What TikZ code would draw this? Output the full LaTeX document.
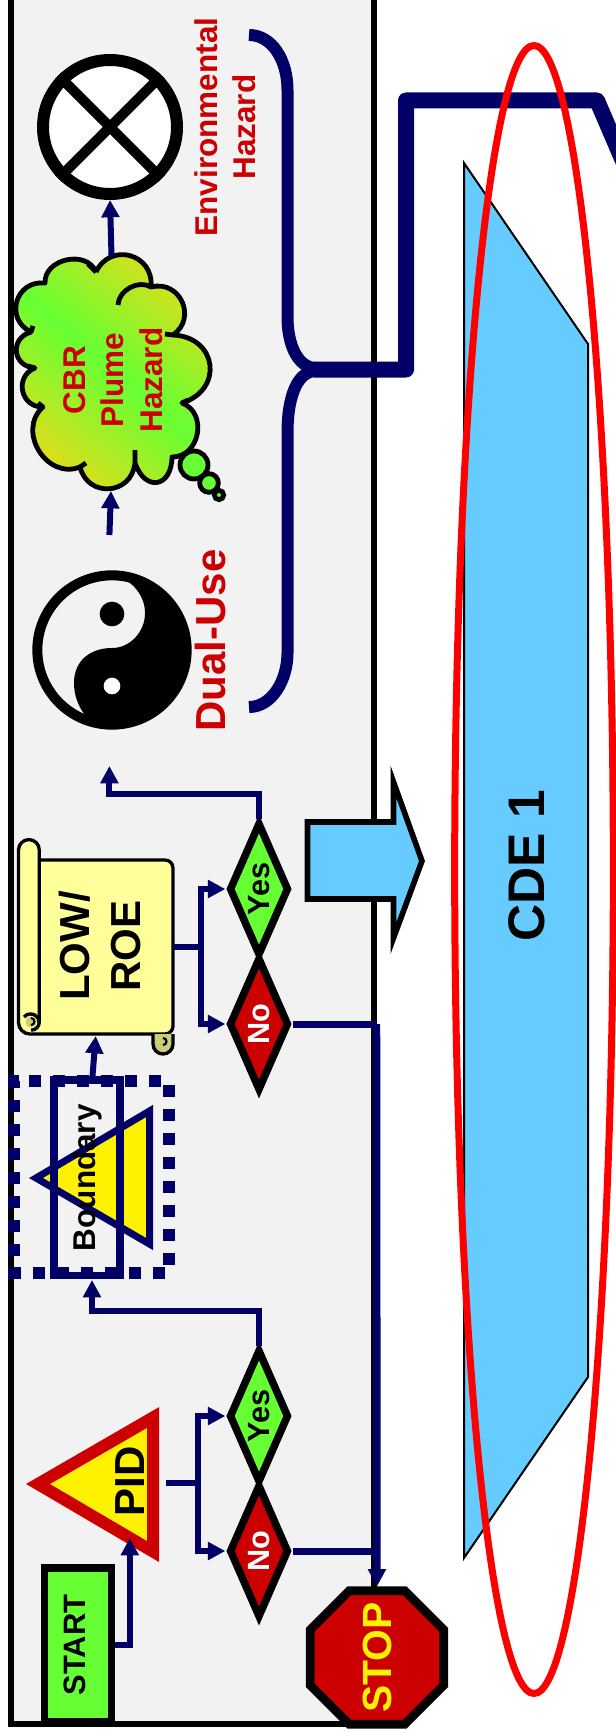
\documentclass[tikz,border=0pt]{standalone}
\usepackage{fontspec}
\setmainfont{Liberation Sans}
\usetikzlibrary{arrows.meta}
\usetikzlibrary{shapes.geometric}

\definecolor{panelgrey}{HTML}{F2F2F2}
\definecolor{navyline}{HTML}{000066}
\definecolor{hazardred}{HTML}{CC0000}
\definecolor{limegreen}{HTML}{66FF33}
\definecolor{skyblue}{HTML}{66CCFF}
\definecolor{scrollyellow}{HTML}{FFFF99}
\definecolor{scrollcurl}{HTML}{CCCC7A}
\definecolor{cloudyellow}{HTML}{E6DC18}

\tikzset{
	flowline/.style = {draw=navyline, line width=4.5pt},
	flowarrow/.style = {flowline, -{Triangle[width=13pt,length=13pt]}},
	redlabel/.style = {font=\bfseries\fontsize{23.6}{28.8}\selectfont, text=hazardred, rotate=90, inner sep=0pt, align=center},
	biglabel/.style = {font=\bfseries\fontsize{31.5}{38.3}\selectfont, rotate=90, inner sep=0pt, align=center},
	decision/.style = {diamond, draw=black, line width=5.6pt, rotate=90, inner sep=0pt, aspect=2.25,
		minimum width=100pt, minimum height=45pt, font=\bfseries\fontsize{23}{28}\selectfont},
	yesbox/.style = {decision, fill=limegreen},
	nobox/.style = {decision, fill=hazardred, text=white},
	cloudlobe/.style = {bend left=80, looseness=1.5},
	scrollline/.style = {draw=black, line width=2.5pt}
}

\begin{document}
\begin{tikzpicture}[x=0.75pt, y=-0.75pt]
	\useasboundingbox (0,0) rectangle (615,1733);
	
	% grey panel
	\draw[black, fill=panelgrey, line width=4.5pt] (10.8,-2.5) rectangle (373.5,1723.5);
	
	% hazard symbol
	\node[circle, draw=black, fill=white, line width=9pt, minimum size=100.5pt, inner sep=0pt] (envhazard) at (110,127) {};
	\draw[black, line width=7.5pt] (envhazard.45) -- (envhazard.225);
	\draw[black, line width=7.5pt] (envhazard.135) -- (envhazard.315);
	\node[redlabel] (envlabel) at (225.5,127) {Environmental\\Hazard};
	
	% cloud
	\draw[black, line width=3.6pt, line join=round, left color=cloudyellow, right color=cloudyellow, middle color=limegreen, shading angle=140]
		(96,272) to[cloudlobe] (151,287)
		to[cloudlobe, looseness=1.45] (173,335)
		to[cloudlobe, looseness=1.65] (182,403)
		to[cloudlobe, looseness=1.3] (172,457)
		to[cloudlobe, looseness=2.1] (135,463)
		to[cloudlobe] (80,467)
		to[cloudlobe, looseness=1.3] (43,407)
		to[cloudlobe, looseness=1.45] (35,368)
		to[cloudlobe, looseness=1.6] (31,332)
		to[cloudlobe] (45,283)
		to[cloudlobe, looseness=1.2] (96,272);
	\draw[black, line width=3.6pt] (118,305) to[bend left=60] (151,287);
	\draw[black, line width=3.6pt] (96,272) -- (88,264) (173,335) -- (165,334) (182,403) -- (188,400) (135,463) -- (135,450)
		(80,467) -- (86,463) (43,407) -- (38,403) (35,368) -- (28,366) (31,332) -- (33,326);
	\node[redlabel] (plumelabel) at (113,380) {CBR\\Plume\\Hazard};
	\node[circle, draw=black, fill=limegreen, line width=3.6pt, minimum size=21pt, inner sep=0pt] (bubblea) at (194,465) {};
	\node[circle, draw=black, fill=limegreen, line width=3.6pt, minimum size=14pt, inner sep=0pt] (bubbleb) at (209,483) {};
	\node[circle, draw=black, fill=limegreen, line width=3.6pt, minimum size=7pt, inner sep=0pt] (bubblec) at (219,495) {};
	
	\coordinate (cloudtop) at (111.5,256);
	\coordinate (cloudbottom) at (111,491);
	\coordinate (yinstart) at (109.4,535);
	\draw[flowarrow] (cloudtop) -- (envhazard.south);
	\draw[flowarrow] (yinstart) -- (cloudbottom);
	
	% yin yang
	\node[circle, draw=black, fill=panelgrey, line width=7.5pt, minimum size=112pt, inner sep=0pt] (dualuse) at (112,650) {};
	\fill[black] (112,575) .. controls (153,575) and (187,609) .. (187,650)
		.. controls (187,691) and (153,725) .. (112,725)
		.. controls (102,725) and (93,721) .. (85,715)
		.. controls (78,706) and (74,695) .. (74,683)
		.. controls (74,660) and (91,648) .. (112,648)
		.. controls (130,648) and (145,632) .. (145,613)
		.. controls (145,594) and (130,578) .. (112,575);
	\node[circle, fill=black, minimum size=18.5pt, inner sep=0pt] (yindot) at (112,614) {};
	\node[circle, fill=white, minimum size=12.5pt, inner sep=0pt] (yangdot) at (112,686) {};
	\node[biglabel, text=hazardred] (duallabel) at (210,640.5) {Dual-Use};
	
	% brace
	\draw[navyline, line width=9pt] (249,35) .. controls (272,35) and (287.5,60) .. (287.5,90)
		-- (287.5,317) .. controls (287.5,345) and (298,368) .. (316,368);
	\draw[navyline, line width=9pt] (316,371) .. controls (298,371) and (287.5,395) .. (287.5,433)
		-- (287.5,653) .. controls (287.5,680) and (272,707) .. (249,707);
	
	% cde box
	\draw[black, fill=skyblue, line width=1.5pt] (464,163) -- (588,344) -- (588,1377) -- (464,1558) -- cycle;
	\node[font=\bfseries\fontsize{38.6}{45}\selectfont, rotate=90, inner sep=0pt] (cdelabel) at (526.7,866) {CDE 1};
	
	% thick line to next stage
	\draw[navyline, line width=12pt, line join=round] (314,369.5) -- (406,369.5) -- (406,100.5) -- (597,100.5) -- (640,200.5);
	
	% red loop
	\node[ellipse, draw=red, line width=5.25pt, minimum width=119pt, minimum height=1236pt, inner sep=0pt] (cdeloop) at (534,869.5) {};
	
	% block arrow
	\draw[black, fill=skyblue, line width=4.2pt] (307.5,822) -- (393.5,822) -- (393.5,782) -- (422,861) -- (393.5,938) -- (393.5,899) -- (307.5,899) -- cycle;
	
	% low roe scroll
	\draw[scrollline, fill=scrollyellow, rounded corners=6pt] (30,860) -- (173,860) -- (173,1034) -- (30,1034);
	\draw[scrollline, fill=scrollyellow] (30,1034) arc[start angle=90, end angle=180, radius=11.5] -- (18.5,850)
		arc[start angle=180, end angle=360, radius=10.4] -- (39.3,1022) arc[start angle=0, end angle=90, radius=8.2];
	\fill[scrollcurl] (31,1022) circle[radius=5.5];
	\draw[scrollline] (24,1017) arc[start angle=220, end angle=360, radius=8.6];
	\draw[black, line width=1.6pt] (31,1018) arc[start angle=270, end angle=450, radius=3.5];
	\draw[scrollline, fill=scrollcurl] (153,1034) -- (153,1044) arc[start angle=180, end angle=0, radius=10] -- (173,1034);
	\draw[black, line width=1.6pt] (163,1038) arc[start angle=270, end angle=450, radius=3.5];
	\node[biglabel] (lowlabel) at (100,946) {LOW/\\ROE};
	\coordinate (scrollright) at (173,947);
	\coordinate (scrollbottom) at (95.7,1036);
	\coordinate (lowsplit) at (200.8,947);
	
	% decisions after low roe
	\node[yesbox] (lowyes) at (259,889) {Yes};
	\node[nobox] (lowno) at (259,1024) {No};
	\coordinate (dualarrow) at (109.4,766);
	\coordinate (lowturn) at (259,794);
	\draw[flowline] (scrollright) -- (lowsplit);
	\draw[flowarrow] (lowsplit) |- (lowyes.north);
	\draw[flowarrow] (lowsplit) |- (lowno.north);
	\draw[flowarrow] (lowyes.east) -- (lowturn) -| (dualarrow);
	
	% boundary
	\draw[navyline, fill=yellow, line width=5.25pt] (36,1178) -- (149.5,1111) -- (149.5,1244) -- cycle;
	\draw[navyline, line width=9pt, dash pattern=on 9pt off 9pt] (29,1081) -- (169,1081) -- (169,1273) -- (14,1273) -- (14,1081) -- cycle;
	\node[draw=navyline, line width=5.6pt, rotate=90, inner sep=0pt, minimum width=146.6pt, minimum height=49.3pt,
		font=\bfseries\fontsize{23.6}{28}\selectfont] (boundarybox) at (86.9,1177.7) {Boundary};
	\coordinate (boundarybottom) at (92,1280);
	\draw[flowarrow] (92.5,1076) -- (scrollbottom);
	
	% pid
	\draw[hazardred, fill=yellow, line width=9pt] (38,1484) -- (153,1417.5) -- (153,1551.5) -- cycle;
	\node[biglabel] (pidlabel) at (130,1481.5) {PID};
	\coordinate (pidright) at (165.5,1482.5);
	\coordinate (pidsplit) at (198,1482.5);
	\coordinate (pidbottom) at (129.8,1538);
	\node[yesbox] (pidyes) at (259,1416) {Yes};
	\node[nobox] (pidno) at (259,1551) {No};
	\coordinate (pidturn) at (259,1311);
	\draw[flowline] (pidright) -- (pidsplit);
	\draw[flowarrow] (pidsplit) |- (pidyes.north);
	\draw[flowarrow] (pidsplit) |- (pidno.north);
	\draw[flowarrow] (pidyes.east) -- (pidturn) -| (boundarybottom);
	
	% start box
	\node[draw=black, fill=limegreen, line width=5.4pt, rotate=90, inner sep=0pt, minimum width=115.5pt, minimum height=49.9pt,
		font=\bfseries\fontsize{23.2}{28}\selectfont, text height=16.7pt, text depth=5.7pt] (startbox) at (77.9,1645) {START};
	\draw[flowarrow] (startbox.south) -| (pidbottom);
	
	% stop sign
	\node[regular polygon, regular polygon sides=8, draw=black, fill=hazardred, line width=6.5pt, inner sep=0pt, minimum size=108.4pt] (stopsign) at (377,1657.5) {};
	\node[font=\bfseries\fontsize{30.6}{36}\selectfont, text=yellow, rotate=90, inner sep=0pt] (stoplabel) at (377,1657.5) {STOP};
	
	% no branches to stop
	\coordinate (stopjoin) at (376.5,1024);
	\draw[flowline, line width=5.25pt] (lowno.south) -- (stopjoin);
	\draw[flowline, line width=5.25pt] (pidno.south) -- (376.5,1551);
	\draw[flowarrow, line width=5.6pt] (stopjoin) -- (stopsign.north);
	
\end{tikzpicture}
\end{document}
